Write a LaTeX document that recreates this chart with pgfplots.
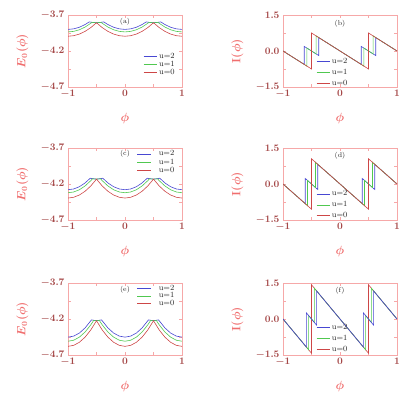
\documentclass[border=0pt]{standalone}
\usepackage{pgfplots}
\pgfplotsset{compat=1.18}
\definecolor{axpink}{RGB}{246,168,168}
\definecolor{labpink}{RGB}{240,110,110}
\definecolor{tickred}{RGB}{165,72,72}
\definecolor{cblue}{RGB}{72,72,210}
\definecolor{cgreen}{RGB}{80,200,80}
\definecolor{cred}{RGB}{205,70,70}
\tikzset{plab/.style={font=\scriptsize,text=black!85}}
\pgfplotsset{
  panel/.style={scale only axis,width=114pt,height=72pt,anchor=south west,
    xmin=-1,xmax=1,xtick={-1,0,1},minor x tick num=1,minor y tick num=1,
    axis line style={axpink},tick style={axpink},tick align=inside,
    major tick length=3pt,minor tick length=3pt,
    tick label style={font=\bfseries\boldmath,text=tickred},
    yticklabel style={/pgf/number format/.cd,fixed,fixed zerofill,precision=1},
    xlabel={$\phi$},
    xlabel style={font=\large\boldmath,text=labpink,at={(axis description cs:0.5,-0.44)},anchor=center},
    ylabel style={font=\large\boldmath,text=labpink,at={(axis description cs:-0.40,0.5)},anchor=center},
    every axis plot/.append style={line width=0.6pt},
    legend style={draw=none,fill=none,font=\footnotesize,text=black!85,inner sep=0pt,row sep=-2pt,anchor=west},
    legend cell align=left,
    legend image code/.code={\draw[#1] (0pt,0pt) -- (13pt,0pt);}},
  widegap/.style={legend image code/.code={\draw[#1] (0pt,0pt) -- (14pt,0pt); \path (19pt,0pt);}},
  epanel/.style={panel,ymin=-4.7,ymax=-3.7,ytick={-4.7,-4.2,-3.7},ylabel={$E_0(\phi)$}},
  ipanel/.style={panel,ymin=-1.5,ymax=1.5,ytick={-1.5,0,1.5},ylabel={$\mathbf{I}(\phi)$}}
}
\begin{document}
\begin{tikzpicture}[x=1pt,y=1pt]
\useasboundingbox (0,0) rectangle (417,393);

% (a)
\begin{axis}[epanel,at={(68pt,306pt)},legend style={at={(rel axis cs:0.66,0.315)},row sep=-3pt}]
\addplot[cblue] coordinates {(-1,-3.900)(-0.9,-3.8925)(-0.8,-3.870)(-0.7,-3.8325)(-0.627,-3.7957)(-0.6,-3.8000)(-0.5,-3.8075)(-0.4,-3.8000)(-0.373,-3.7957)(-0.3,-3.8325)(-0.2,-3.870)(-0.1,-3.8925)(0,-3.900)(0.1,-3.8925)(0.2,-3.870)(0.3,-3.8325)(0.373,-3.7957)(0.4,-3.8000)(0.5,-3.8075)(0.6,-3.8000)(0.627,-3.7957)(0.7,-3.8325)(0.8,-3.870)(0.9,-3.8925)(1,-3.900)};
\addplot[cgreen] coordinates {(-1,-3.935)(-0.9,-3.9275)(-0.8,-3.905)(-0.7,-3.8675)(-0.6,-3.815)(-0.58,-3.8027)(-0.5,-3.8075)(-0.42,-3.8027)(-0.4,-3.815)(-0.3,-3.8675)(-0.2,-3.905)(-0.1,-3.9275)(0,-3.935)(0.1,-3.9275)(0.2,-3.905)(0.3,-3.8675)(0.4,-3.815)(0.42,-3.8027)(0.5,-3.8075)(0.58,-3.8027)(0.6,-3.815)(0.7,-3.8675)(0.8,-3.905)(0.9,-3.9275)(1,-3.935)};
\addplot[cred] coordinates {(-1,-3.995)(-0.9,-3.9875)(-0.8,-3.965)(-0.7,-3.9275)(-0.6,-3.875)(-0.5,-3.8075)(-0.4,-3.875)(-0.3,-3.9275)(-0.2,-3.965)(-0.1,-3.9875)(0,-3.995)(0.1,-3.9875)(0.2,-3.965)(0.3,-3.9275)(0.4,-3.875)(0.5,-3.8075)(0.6,-3.875)(0.7,-3.9275)(0.8,-3.965)(0.9,-3.9875)(1,-3.995)};
\legend{u=2,u=1,u=0}
\node[plab] at (rel axis cs:0.5,0.90) {(a)};
\end{axis}

% (b)
\begin{axis}[ipanel,at={(283pt,306pt)},legend style={at={(rel axis cs:0.29,0.20)},row sep=0pt}]
\addplot[cblue] coordinates {(-1,0)(-0.627,-0.5595)(-0.627,0.1905)(-0.373,-0.1905)(-0.373,0.5595)(0.373,-0.5595)(0.373,0.1905)(0.627,-0.1905)(0.627,0.5595)(1,0)};
\addplot[cgreen] coordinates {(-1,0)(-0.58,-0.63)(-0.58,0.12)(-0.42,-0.12)(-0.42,0.63)(0.42,-0.63)(0.42,0.12)(0.58,-0.12)(0.58,0.63)(1,0)};
\addplot[cred] coordinates {(-1,0)(-0.5,-0.75)(-0.5,0.75)(0.5,-0.75)(0.5,0.75)(1,0)};
\legend{u=2,u=1,u=0}
\node[plab] at (rel axis cs:0.5,0.875) {(b)};
\end{axis}

% (c)
\begin{axis}[epanel,widegap,at={(68pt,173pt)},legend style={at={(rel axis cs:0.605,0.80)},row sep=-2.5pt}]
\addplot[cblue] coordinates {(-1,-4.2795)(-0.9,-4.269)(-0.8,-4.2375)(-0.7,-4.185)(-0.61,-4.1198)(-0.6,-4.122)(-0.5,-4.1325)(-0.4,-4.122)(-0.39,-4.1198)(-0.3,-4.185)(-0.2,-4.2375)(-0.1,-4.269)(0,-4.2795)(0.1,-4.269)(0.2,-4.2375)(0.3,-4.185)(0.39,-4.1198)(0.4,-4.122)(0.5,-4.1325)(0.6,-4.122)(0.61,-4.1198)(0.7,-4.185)(0.8,-4.2375)(0.9,-4.269)(1,-4.2795)};
\addplot[cgreen] coordinates {(-1,-4.3215)(-0.9,-4.311)(-0.8,-4.2795)(-0.7,-4.227)(-0.6,-4.1535)(-0.57,-4.1274)(-0.5,-4.1325)(-0.43,-4.1274)(-0.4,-4.1535)(-0.3,-4.227)(-0.2,-4.2795)(-0.1,-4.311)(0,-4.3215)(0.1,-4.311)(0.2,-4.2795)(0.3,-4.227)(0.4,-4.1535)(0.43,-4.1274)(0.5,-4.1325)(0.57,-4.1274)(0.6,-4.1535)(0.7,-4.227)(0.8,-4.2795)(0.9,-4.311)(1,-4.3215)};
\addplot[cred] coordinates {(-1,-4.395)(-0.9,-4.3845)(-0.8,-4.353)(-0.7,-4.3005)(-0.6,-4.227)(-0.5,-4.1325)(-0.4,-4.227)(-0.3,-4.3005)(-0.2,-4.353)(-0.1,-4.3845)(0,-4.395)(0.1,-4.3845)(0.2,-4.353)(0.3,-4.3005)(0.4,-4.227)(0.5,-4.1325)(0.6,-4.227)(0.7,-4.3005)(0.8,-4.353)(0.9,-4.3845)(1,-4.395)};
\legend{u=2,u=1,u=0}
\node[plab] at (rel axis cs:0.5,0.915) {(c)};
\end{axis}

% (d)
\begin{axis}[ipanel,at={(283pt,173pt)},legend style={at={(rel axis cs:0.29,0.21)},row sep=0pt}]
\addplot[cblue] coordinates {(-1,0)(-0.61,-0.819)(-0.61,0.231)(-0.39,-0.231)(-0.39,0.819)(0.39,-0.819)(0.39,0.231)(0.61,-0.231)(0.61,0.819)(1,0)};
\addplot[cgreen] coordinates {(-1,0)(-0.57,-0.903)(-0.57,0.147)(-0.43,-0.147)(-0.43,0.903)(0.43,-0.903)(0.43,0.147)(0.57,-0.147)(0.57,0.903)(1,0)};
\addplot[cred] coordinates {(-1,0)(-0.5,-1.05)(-0.5,1.05)(0.5,-1.05)(0.5,1.05)(1,0)};
\legend{u=2,u=1,u=0}
\node[plab] at (rel axis cs:0.5,0.89) {(d)};
\end{axis}

% (e)
\begin{axis}[epanel,widegap,at={(68pt,38pt)},legend style={at={(rel axis cs:0.605,0.82)},row sep=-3pt}]
\addplot[cblue] coordinates {(-1,-4.4518)(-0.9,-4.4376)(-0.8,-4.3948)(-0.7,-4.3236)(-0.6,-4.2238)(-0.59,-4.2123)(-0.5,-4.2238)(-0.41,-4.2123)(-0.4,-4.2238)(-0.3,-4.3236)(-0.2,-4.3948)(-0.1,-4.4376)(0,-4.4518)(0.1,-4.4376)(0.2,-4.3948)(0.3,-4.3236)(0.4,-4.2238)(0.41,-4.2123)(0.5,-4.2238)(0.59,-4.2123)(0.6,-4.2238)(0.7,-4.3236)(0.8,-4.3948)(0.9,-4.4376)(1,-4.4518)};
\addplot[cgreen] coordinates {(-1,-4.5088)(-0.9,-4.4946)(-0.8,-4.4518)(-0.7,-4.3806)(-0.6,-4.2808)(-0.55,-4.2202)(-0.5,-4.2238)(-0.45,-4.2202)(-0.4,-4.2808)(-0.3,-4.3806)(-0.2,-4.4518)(-0.1,-4.4946)(0,-4.5088)(0.1,-4.4946)(0.2,-4.4518)(0.3,-4.3806)(0.4,-4.2808)(0.45,-4.2202)(0.5,-4.2238)(0.55,-4.2202)(0.6,-4.2808)(0.7,-4.3806)(0.8,-4.4518)(0.9,-4.4946)(1,-4.5088)};
\addplot[cred] coordinates {(-1,-4.58)(-0.9,-4.5658)(-0.8,-4.523)(-0.7,-4.4518)(-0.6,-4.352)(-0.5,-4.2238)(-0.4,-4.352)(-0.3,-4.4518)(-0.2,-4.523)(-0.1,-4.5658)(0,-4.58)(0.1,-4.5658)(0.2,-4.523)(0.3,-4.4518)(0.4,-4.352)(0.5,-4.2238)(0.6,-4.352)(0.7,-4.4518)(0.8,-4.523)(0.9,-4.5658)(1,-4.58)};
\legend{u=2,u=1,u=0}
\node[plab] at (rel axis cs:0.5,0.90) {(e)};
\end{axis}

% (f)
\begin{axis}[ipanel,at={(283pt,38pt)},reverse legend,legend style={at={(rel axis cs:0.29,0.23)},row sep=0pt}]
\addplot[cred] coordinates {(-1,0)(-0.5,-1.425)(-0.5,1.425)(0.5,-1.425)(0.5,1.425)(1,0)};
\addplot[cgreen] coordinates {(-1,0)(-0.55,-1.2825)(-0.55,0.1425)(-0.45,-0.1425)(-0.45,1.2825)(0.45,-1.2825)(0.45,0.1425)(0.55,-0.1425)(0.55,1.2825)(1,0)};
\addplot[cblue] coordinates {(-1,0)(-0.59,-1.1685)(-0.59,0.2565)(-0.41,-0.2565)(-0.41,1.1685)(0.41,-1.1685)(0.41,0.2565)(0.59,-0.2565)(0.59,1.1685)(1,0)};
\legend{u=0,u=1,u=2}
\node[plab] at (rel axis cs:0.5,0.89) {(f)};
\end{axis}
\end{tikzpicture}
\end{document}
